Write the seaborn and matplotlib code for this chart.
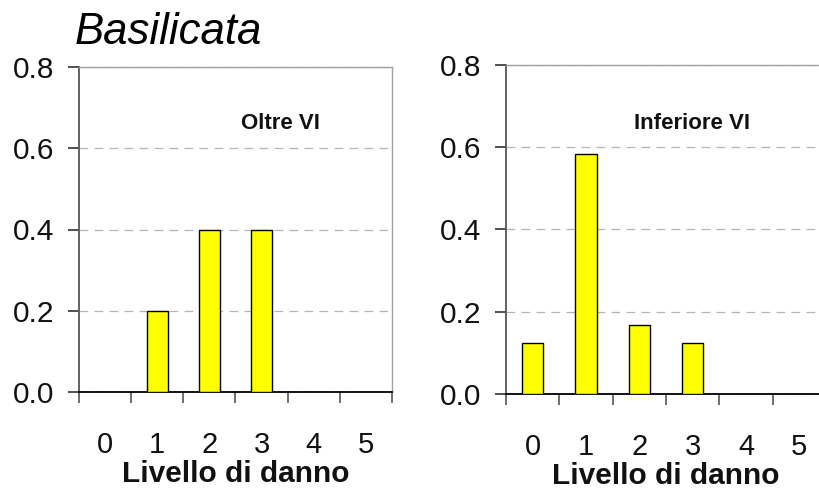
import matplotlib
matplotlib.use("Agg")
import matplotlib.pyplot as plt
from matplotlib import font_manager
import seaborn as sns
import pandas as pd

# Damage-level distributions for Basilicata
livelli = ["0", "1", "2", "3", "4", "5"]
oltre_vi = [0.0, 0.2, 0.4, 0.4, 0.0, 0.0]
inferiore_vi = [0.125, 0.5833, 0.1667, 0.125, 0.0, 0.0]
y_ticks = [0.0, 0.2, 0.4, 0.6, 0.8]
titolo = "Basilicata"
etichetta_x = "Livello di danno"
pannelli = ["Oltre VI", "Inferiore VI"]

sns.set_theme(style="white")

available = {f.name for f in font_manager.fontManager.ttflist}
narrow = "Liberation Sans Narrow" if "Liberation Sans Narrow" in available else "Liberation Sans"
plt.rcParams["font.family"] = [narrow, "DejaVu Sans"]

fig = plt.figure(figsize=(8.19, 4.95), dpi=100)
ax_l = fig.add_axes([79 / 819, 103 / 495, 313 / 819, 325 / 495])
ax_r = fig.add_axes([506 / 819, 101 / 495, 320 / 819, 329.5 / 495])

specs = [
    (ax_l, oltre_vi, pannelli[0], (3.37, 0.662)),
    (ax_r, inferiore_vi, pannelli[1], (2.99, 0.656)),
]

for ax, vals, label, pos in specs:
    df = pd.DataFrame({"livello": livelli, "frequenza": vals})
    sns.barplot(data=df, x="livello", y="frequenza", order=livelli, ax=ax,
                color="#FFFF00", edgecolor="black", linewidth=1.0, width=0.4,
                saturation=1, zorder=3)
    ax.set_xlim(-0.5, 5.5)
    ax.set_ylim(0, 0.8)
    ax.set_yticks(y_ticks)
    ax.set_yticklabels([f"{t:.1f}" for t in y_ticks])
    ax.yaxis.grid(True, linestyle=(0, (7, 5)), color="#b5b5b5", linewidth=0.9, zorder=0)
    ax.xaxis.grid(False)
    ax.set_xticks(range(len(livelli)))
    ax.set_xticklabels(livelli)
    ax.set_xticks([i - 0.5 for i in range(len(livelli) + 1)], minor=True)
    ax.tick_params(axis="x", which="major", length=0, pad=28, labelsize=21, colors="#111111")
    ax.tick_params(axis="x", which="minor", length=8, width=1.2, direction="out", color="#555555", bottom=True)
    ax.tick_params(axis="y", which="major", length=8, width=1.2, direction="out", pad=10,
                   labelsize=21.5, colors="#111111", left=True)
    ax.tick_params(axis="y", colors="#333333", labelcolor="#111111")
    for side in ["top", "right"]:
        ax.spines[side].set_visible(True)
        ax.spines[side].set_color("#a0a0a0")
        ax.spines[side].set_linewidth(1.0)
    ax.spines["left"].set_color("#555555")
    ax.spines["left"].set_linewidth(1.3)
    ax.spines["bottom"].set_color("black")
    ax.spines["bottom"].set_linewidth(1.3)
    ax.set_ylabel("")
    ax.set_xlabel(etichetta_x, fontsize=21.5, fontweight="bold", labelpad=1, color="#111111")
    ax.text(pos[0], pos[1], label, ha="center", va="center", fontsize=16,
            fontweight="bold", color="#111111")

fig.text(75 / 819, 1 - 32 / 495, titolo, fontsize=31.5, style="italic",
         family=["Liberation Sans", "DejaVu Sans"], va="center", ha="left", color="black")

fig.savefig("out.png", dpi=100)
